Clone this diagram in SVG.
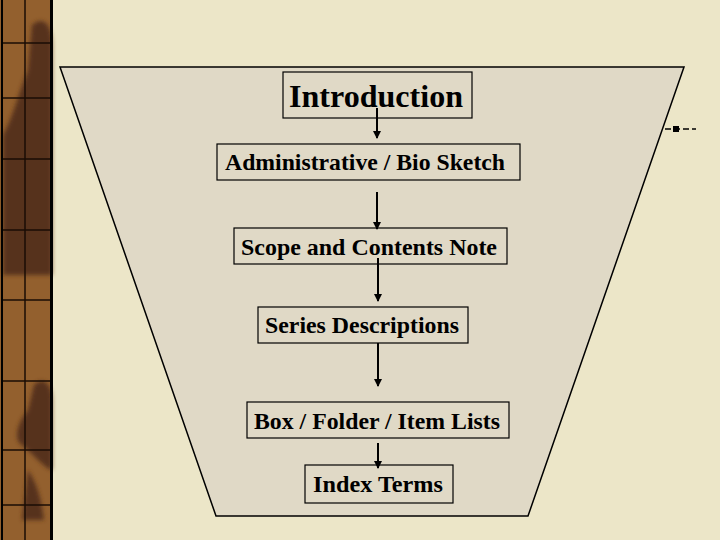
<svg xmlns="http://www.w3.org/2000/svg" width="720" height="540" viewBox="0 0 720 540">
  <defs>
    <style>
      .box { fill: none; stroke: #000; stroke-width: 1.2; }
      .lbl { font-family: "Liberation Serif", "Times New Roman", serif; font-weight: bold; fill: #000; text-anchor: start; }
      .arrow { stroke: #000; stroke-width: 2; fill: none; marker-end: url(#head); }
      .grid { stroke: #1a0c05; stroke-width: 1.5; }
    </style>
    <marker id="head" markerWidth="8" markerHeight="8" refX="7" refY="4" orient="auto" markerUnits="userSpaceOnUse">
      <path d="M0,0 L8,4 L0,8 z" fill="#000"/>
    </marker>
    <filter id="soft" x="-20%" y="-20%" width="140%" height="140%">
      <feGaussianBlur stdDeviation="2"/>
    </filter>
  </defs>

  <!-- page background -->
  <rect x="0" y="0" width="720" height="540" fill="#ECE6C8"/>

  <!-- left decorative strip -->
  <g id="strip">
    <rect x="0" y="0" width="52" height="540" fill="#93602E"/>
    <g fill="#56301E" filter="url(#soft)">
      <path d="M32,25 C44,15 52,25 52,45 L52,275 L3,275 L3,135 C12,120 18,95 28,70 Z"/>
      <path d="M30,135 C35,125 45,135 40,150 Z"/>
      <path d="M34,385 C44,375 52,385 52,400 L52,470 C44,468 34,455 22,445 C14,440 16,425 28,410 Z"/>
      <path d="M28,470 C34,480 40,490 44,520 L22,520 Z"/>
    </g>
    <line class="grid" x1="25" y1="0" x2="25" y2="540"/>
    <line class="grid" x1="3" y1="43" x2="50" y2="43"/>
    <line class="grid" x1="3" y1="98" x2="50" y2="98"/>
    <line class="grid" x1="3" y1="159" x2="50" y2="159"/>
    <line class="grid" x1="3" y1="230" x2="50" y2="230"/>
    <line class="grid" x1="3" y1="300" x2="50" y2="300"/>
    <line class="grid" x1="3" y1="381" x2="50" y2="381"/>
    <line class="grid" x1="3" y1="450" x2="50" y2="450"/>
    <line class="grid" x1="3" y1="505" x2="50" y2="505"/>
    <line x1="2" y1="0" x2="2" y2="540" stroke="#000" stroke-width="2"/>
    <line x1="51.5" y1="0" x2="51.5" y2="540" stroke="#000" stroke-width="3"/>
  </g>

  <!-- funnel shape -->
  <polygon id="funnel" points="60,67 684,67 528,516 216,516" fill="#E0D9C6" stroke="#000" stroke-width="1.5"/>

  <!-- small marker at right -->
  <g id="mark">
    <line x1="665" y1="129" x2="696" y2="129" stroke="#000" stroke-width="1.5" stroke-dasharray="6,3"/>
    <rect x="673" y="126" width="6" height="6" fill="#000"/>
  </g>

  <!-- connectors -->
  <g id="connectors">
    <line class="arrow" x1="377" y1="108" x2="377" y2="138"/>
    <line class="arrow" x1="377" y1="192" x2="377" y2="229"/>
    <line class="arrow" x1="378" y1="258" x2="378" y2="301"/>
    <line class="arrow" x1="378" y1="343" x2="378" y2="386"/>
    <line class="arrow" x1="378" y1="443" x2="378" y2="468"/>
  </g>

  <!-- nodes -->
  <g id="introduction">
    <rect class="box" x="283" y="72" width="189" height="46"/>
    <text class="lbl" x="289" y="107" font-size="32" textLength="174" lengthAdjust="spacingAndGlyphs">Introduction</text>
  </g>
  <g id="admin">
    <rect class="box" x="217" y="144" width="303" height="36"/>
    <text class="lbl" x="225" y="170" font-size="23" textLength="280" lengthAdjust="spacingAndGlyphs">Administrative / Bio Sketch</text>
  </g>
  <g id="scope">
    <rect class="box" x="234" y="228" width="273" height="36"/>
    <text class="lbl" x="241" y="255" font-size="23" textLength="256" lengthAdjust="spacingAndGlyphs">Scope and Contents Note</text>
  </g>
  <g id="series">
    <rect class="box" x="258" y="307" width="210" height="36"/>
    <text class="lbl" x="265" y="333" font-size="23" textLength="194" lengthAdjust="spacingAndGlyphs">Series Descriptions</text>
  </g>
  <g id="boxlists">
    <rect class="box" x="247" y="402" width="262" height="36"/>
    <text class="lbl" x="254" y="429" font-size="23" textLength="246" lengthAdjust="spacingAndGlyphs">Box / Folder / Item Lists</text>
  </g>
  <g id="index">
    <rect class="box" x="305" y="465" width="148" height="38"/>
    <text class="lbl" x="313" y="492" font-size="23" textLength="130" lengthAdjust="spacingAndGlyphs">Index Terms</text>
  </g>
</svg>
